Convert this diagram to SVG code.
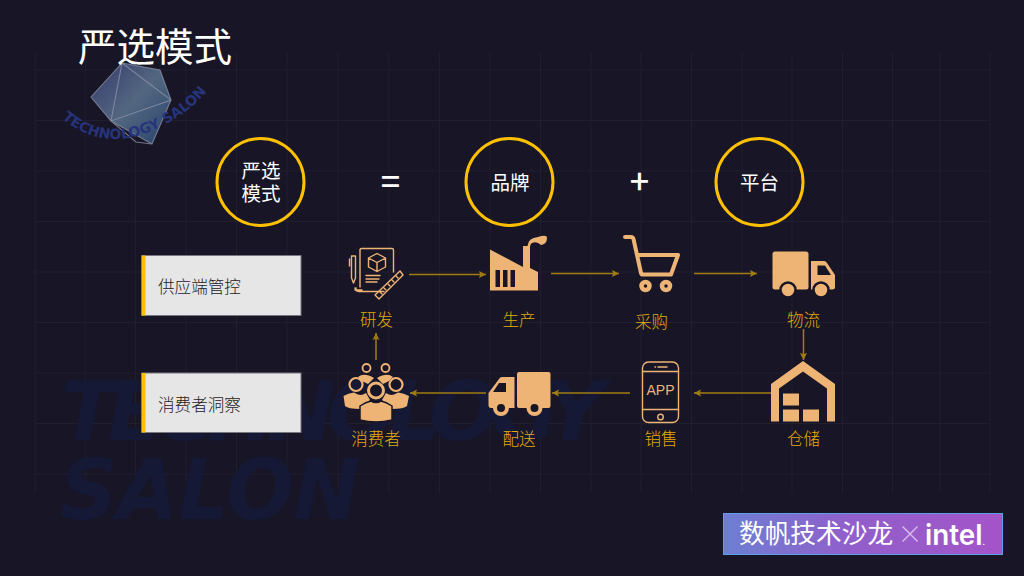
<svg xmlns="http://www.w3.org/2000/svg" width="1024" height="576" viewBox="0 0 1024 576">
<style>
text{font-family:"Noto Sans CJK SC","Liberation Sans",sans-serif}
.circ{fill:none;stroke:#ffc000;stroke-width:3}
.ct{fill:#fff;font-size:19.5px;text-anchor:middle}
.box{fill:#e6e6e6;stroke:#77767f;stroke-width:1}
.bar{fill:#ffc000}
.bt{fill:#222;font-size:16.6px;font-weight:300}
.lab{fill:#e3aa08;font-size:16.5px;text-anchor:middle;font-weight:300}
.ic{fill:#edb476}
.icl{fill:none;stroke:#edb476;stroke-width:1.4;stroke-linejoin:round;stroke-linecap:round}
.bg{fill:#181626}
.con{fill:none;stroke:#a07c10;stroke-width:1.5;marker-end:url(#arr)}
.grid{fill:none;stroke:#211f2e;stroke-width:1}
.wm{font-family:"DejaVu Sans",sans-serif;font-weight:700;font-style:italic;fill:#151935}
</style>
<defs>
<marker id="arr" markerUnits="userSpaceOnUse" markerWidth="8" markerHeight="8" refX="7" refY="4" orient="auto"><path d="M0 0.5L7 4L0 7.500L1.2 4Z" fill="#a07c10"/></marker>
<linearGradient id="ban" x1="0" y1="0" x2="1" y2="0"><stop offset="0" stop-color="#6c7fd2"/><stop offset=".45" stop-color="#915fcb"/><stop offset="1" stop-color="#a354c8"/></linearGradient>
<linearGradient id="gem" x1="0" y1="0" x2="1" y2="1"><stop offset="0" stop-color="#3a3f78"/><stop offset=".5" stop-color="#5d7590"/><stop offset="1" stop-color="#2a4a78"/></linearGradient>
<path id="curve" d="M62 118Q105 155 160 127T220 60"/>
</defs>

<rect width="1024" height="576" fill="#181626"/>
<path class="grid" d="M35 53V493M85.300 53V493M135.500 53V493M186 53V493M236.500 53V493M287 53V493M338 53V493M389 53V493M439.500 53V493M490 53V493M540.500 53V493M591 53V493M641 53V493M691.500 53V493M742 53V493M792 53V493M842.500 53V493M892.500 53V493M940 53V493M990 53V493M35 70H990M35 120.500H990M35 171H990M35 221.500H990M35 272H990M35 322.500H990M35 373H990M35 423.500H990M35 474H990"/>

<g id="watermark">
<text class="wm" x="60" y="440" font-size="82" textLength="545" lengthAdjust="spacing">TECHNOLOGY</text>
<text class="wm" x="60" y="519" font-size="84" textLength="300" lengthAdjust="spacingAndGlyphs">SALON</text>
</g>

<g id="logo">
<polygon points="122,63 160,70 171,100 152,144 111,121 91,97" fill="url(#gem)" opacity=".85"/>
<path d="M122 63L160 70L171 100L152 144L111 121L91 97ZM122 63L171 100L111 121ZM122 63L91 97M111 121L136 142L152 144" fill="none" stroke="#8d93a8" stroke-width="1.1" opacity=".75"/>
<text font-size="14" fill="#27347c" style="font-family:'DejaVu Sans',sans-serif;font-weight:700"><textPath href="#curve">TECHNOLOGY SALON</textPath></text>
</g>

<text id="title" x="78" y="61" font-size="38.500" fill="#fff">严选模式</text>

<g id="node-yanxuan"><circle class="circ" cx="260.500" cy="182" r="43.500"/><text class="ct" x="261" y="178">严选</text><text class="ct" x="261" y="201">模式</text></g>
<text id="eq" x="390.500" y="194" font-size="34" fill="#fff" text-anchor="middle" font-weight="500">=</text>
<g id="node-brand"><circle class="circ" cx="509.500" cy="182" r="43.500"/><text class="ct" x="510" y="190">品牌</text></g>
<text id="plus" x="639.500" y="194" font-size="34" fill="#fff" text-anchor="middle" font-weight="500">+</text>
<g id="node-platform"><circle class="circ" cx="759.500" cy="182" r="43.500"/><text class="ct" x="759.500" y="190">平台</text></g>

<g id="box-supply"><rect class="box" x="142" y="255.500" width="159" height="60"/><rect class="bar" x="141.500" y="255.500" width="4" height="60"/><text class="bt" x="158" y="293">供应端管控</text></g>
<g id="box-consumer"><rect class="box" x="142" y="373" width="159" height="59.500"/><rect class="bar" x="141.500" y="373" width="4" height="59.500"/><text class="bt" x="158" y="411">消费者洞察</text></g>

<g id="connectors">
<path class="con" d="M409 274.500H486"/>
<path class="con" d="M551 273.500H619"/>
<path class="con" d="M694 273.500H757"/>
<path class="con" d="M803.500 329V360"/>
<path class="con" d="M771 393H694"/>
<path class="con" d="M630 393H552"/>
<path class="con" d="M486 393H410"/>
<path class="con" d="M376 360V333"/>
</g>

<g id="node-rd">
<path class="icl" d="M360 287V250Q360 248.500 362 248.500H392Q393.500 248.500 393.500 250V272M355 290H362Q355 291 356 288M384 291.500H359Q355 291 355 288"/>
<path class="icl" d="M368.500 258L377 253.500L385.500 258V267L377 271.500L368.500 267ZM368.500 258L377 262.500L385.500 258M377 262.500V271.500"/>
<path class="icl" d="M366 275.500H380M366 279H379M366 282H377"/>
<path class="icl" d="M351.500 256H355.500V278L353.500 283L351.500 278ZM349.500 259V266"/>
<path class="icl" d="M375 295L400 271L403 275L379 299Z"/>
<path class="icl" d="M380 292L382 294M384 288L386 290M388 284L390 286M392 280L394 282M396 276L398 278" stroke-width="1"/>
<text class="lab" x="376.500" y="325.500">研发</text>
</g>

<g id="node-produce">
<path class="ic" d="M490 249.500L523 267V246H530V268L538 272V290.500H490Z"/>
<path class="ic" d="M527.500 246Q528 238 538 237Q547 234 547 238Q547 244 541 245Q537 241 532 243Q530 244 530 248Z"/>
<rect class="bg" x="495.500" y="270" width="4.500" height="17"/><rect class="bg" x="503" y="270" width="4.500" height="17"/><rect class="bg" x="510.500" y="270" width="4.500" height="17"/>
<text class="lab" x="519" y="325.500">生产</text>
</g>

<g id="node-purchase">
<path d="M625 237H631Q633 237 633.500 239L641 273Q641.500 274.500 643 274.500H671L678 255H637" fill="none" stroke="#edb476" stroke-width="4" stroke-linejoin="round" stroke-linecap="round"/>
<circle cx="645.500" cy="286" r="4" fill="none" stroke="#edb476" stroke-width="4.500"/>
<circle cx="666" cy="286" r="4" fill="none" stroke="#edb476" stroke-width="4.500"/>
<text class="lab" x="651.500" y="328">采购</text>
</g>

<g id="node-logistics">
<rect class="ic" x="772.500" y="251.500" width="36" height="38" rx="2.500"/>
<path class="ic" d="M811 261H824Q826 261 827 263L835 275V287Q835 289.500 832 289.500H811Z"/>
<path class="bg" d="M817.500 265.500H825L831 275H817.500Z"/>
<circle cx="788" cy="290" r="7.500" fill="#edb476" stroke="#181626" stroke-width="2.500"/>
<circle cx="821" cy="290" r="7.500" fill="#edb476" stroke="#181626" stroke-width="2.500"/>
<text class="lab" x="803.500" y="325.500">物流</text>
</g>

<g id="node-warehouse">
<path class="ic" d="M803 361L835 384V421.500H827V388.500L803 371.500L779 388.500V421.500H771V384Z"/>
<rect class="ic" x="783" y="393.500" width="16" height="12"/><rect class="ic" x="783" y="409.500" width="16" height="12"/><rect class="ic" x="803" y="409.500" width="16" height="12"/>
<text class="lab" x="803.500" y="445">仓储</text>
</g>

<g id="node-sales">
<rect class="icl" x="642.500" y="362" width="36" height="60.500" rx="6"/>
<path class="icl" d="M642.500 371.500H678.500M642.500 409.500H678.500M658 367H667M655 367H655.500"/>
<circle class="icl" cx="660.500" cy="417" r="2.800"/>
<text x="660.500" y="395" font-size="14" fill="#edb476" text-anchor="middle" style="font-family:'Liberation Sans',sans-serif">APP</text>
<text class="lab" x="661" y="445">销售</text>
</g>

<g id="node-delivery">
<rect class="ic" x="517" y="372" width="33.500" height="36" rx="2"/>
<path class="ic" d="M514.500 377H502Q500 377 499 379L488.500 393V405Q488.500 408 491 408H514.500Z"/>
<path class="bg" d="M506 383H499L493 392H506Z"/>
<circle cx="501" cy="408" r="6" fill="#181626" stroke="#edb476" stroke-width="4"/>
<circle cx="534.500" cy="408" r="6" fill="#181626" stroke="#edb476" stroke-width="4"/>
<text class="lab" x="519" y="445">配送</text>
</g>

<g id="node-consumer">
<path class="ic" d="M358 377Q364 372 374 378L368 384L362 381ZM393 377Q387 372 377 378L383 384L389 381Z"/>
<circle cx="366.500" cy="368" r="4" fill="none" stroke="#edb476" stroke-width="1.800"/>
<circle cx="385.500" cy="368" r="4" fill="none" stroke="#edb476" stroke-width="1.800"/>
<path class="ic" d="M343.500 396Q348 393 354 392.500Q360 397 366 393L370 400L361 407V409Q348 409 345 406ZM409 396Q404 393 398 392.500Q392 397 386 393L382 400L391 407V409Q404 409 407 406Z"/>
<circle cx="356" cy="384.500" r="6.500" fill="none" stroke="#edb476" stroke-width="2.200"/>
<circle cx="396" cy="384.500" r="6.500" fill="none" stroke="#edb476" stroke-width="2.200"/>
<path class="ic" d="M360 406Q366 402 371 401Q376 404 381 401Q386 402 392 406V420Q376 424 360 420Z" stroke="#181626" stroke-width="1.500"/>
<circle cx="376" cy="390.500" r="7.500" fill="#181626" stroke="#edb476" stroke-width="3"/>
<text class="lab" x="376" y="445">消费者</text>
</g>

<g id="banner">
<rect x="723.500" y="513.500" width="279" height="41" fill="url(#ban)" stroke="#5f9fe6" stroke-width="1"/>
<text x="739" y="543" font-size="25.700" fill="#fff">数帆技术沙龙</text>
<text x="910" y="543" font-size="25" fill="#d9c0ee" text-anchor="middle" font-weight="300">×</text>
<text x="925" y="545" font-size="29" fill="#fff" style="font-family:Inter,'Liberation Sans',sans-serif;font-weight:600" textLength="60" lengthAdjust="spacingAndGlyphs">intel<tspan font-size="8">.</tspan></text>
</g>
</svg>
